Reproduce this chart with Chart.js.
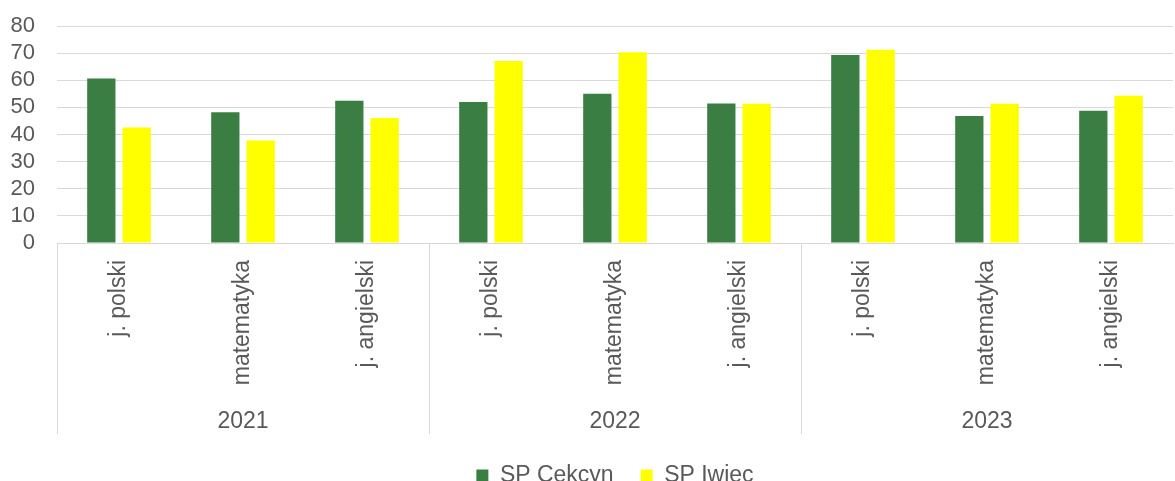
<!DOCTYPE html>
<html>
<head>
<meta charset="utf-8">
<script src="https://cdn.jsdelivr.net/npm/chart.js@4.4.1/dist/chart.umd.min.js"></script>
<style>
  html, body { margin: 0; padding: 0; background: #ffffff; }
  #wrap { width: 1175px; height: 481px; position: relative; }
</style>
</head>
<body>
<div id="wrap"><canvas id="c" width="1175" height="481"></canvas></div>
<script>
const subjects = ['j. polski', 'matematyka', 'j. angielski', 'j. polski', 'matematyka', 'j. angielski', 'j. polski', 'matematyka', 'j. angielski'];
const years = ['2021', '2022', '2023'];
const seriesNames = ['SP Cekcyn', 'SP Iwiec'];
const cekcyn = [60.6, 48.2, 52.4, 52.0, 55.0, 51.4, 69.3, 46.8, 48.8];
const iwiec = [42.6, 37.8, 46.1, 67.1, 70.3, 51.3, 71.2, 51.3, 54.3];
const yTicks = [0, 10, 20, 30, 40, 50, 60, 70, 80];

const TEXT = '#595959';
const GRID = '#d9d9d9';
const FONT = 'Liberation Sans, Arial, sans-serif';

const separators = {
  id: 'separators',
  afterDraw(chart) {
    const x = chart.scales.x;
    const ctx = chart.ctx;
    const n = x.ticks.length;
    const per = n / years.length;
    ctx.save();
    ctx.strokeStyle = GRID;
    ctx.lineWidth = 1;
    for (let g = 0; g < years.length; g++) {
      const i = g * per;
      let px;
      if (i === 0) px = chart.chartArea.left;
      else px = (x.getPixelForValue(i - 1) + x.getPixelForValue(i)) / 2;
      px = Math.round(px) + 0.5;
      ctx.beginPath();
      ctx.moveTo(px, x.top);
      ctx.lineTo(px, x.top + 191);
      ctx.stroke();
    }
    ctx.restore();
  }
};

new Chart(document.getElementById('c'), {
  type: 'bar',
  data: {
    labels: subjects,
    datasets: [
      { label: seriesNames[0], data: cekcyn, backgroundColor: '#3a7e44', borderWidth: 0, xAxisID: 'x', categoryPercentage: 0.57, barPercentage: 0.8 },
      { label: seriesNames[1], data: iwiec, backgroundColor: '#ffff00', borderWidth: 0, xAxisID: 'x', categoryPercentage: 0.57, barPercentage: 0.8 }
    ]
  },
  options: {
    responsive: false,
    animation: false,
    layout: { padding: { top: 26, right: 2, left: 0, bottom: -16 } },
    plugins: {
      legend: {
        position: 'bottom',
        fullSize: false,
        labels: {
          color: TEXT,
          font: { family: FONT, size: 23 },
          boxWidth: 12, boxHeight: 12,
          padding: 27
        }
      },
      tooltip: { enabled: false }
    },
    scales: {
      y: {
        min: 0, max: 80,
        afterBuildTicks(scale) { scale.ticks = yTicks.map(v => ({ value: v })); },
        afterFit(scale) { scale.width = 57; scale.paddingTop = 0; scale.paddingBottom = 0; },
        ticks: { color: TEXT, font: { family: FONT, size: 22 }, padding: 22, autoSkip: false },
        grid: { color: GRID, lineWidth: 1, drawTicks: false },
        border: { display: false }
      },
      x: {
        position: 'bottom',
        afterFit(scale) { scale.height = 153; },
        ticks: { color: TEXT, font: { family: FONT, size: 23 }, minRotation: 90, maxRotation: 90, padding: 17, autoSkip: false },
        grid: { display: false, drawTicks: false },
        border: { display: true, color: GRID, width: 1 }
      },
      x2: {
        type: 'category',
        labels: years,
        position: 'bottom',
        offset: true,
        afterFit(scale) { scale.height = 41; },
        ticks: { color: TEXT, font: { family: FONT, size: 23 }, padding: 12 },
        grid: { display: false, drawTicks: false },
        border: { display: false }
      }
    }
  },
  plugins: [separators]
});
</script>
</body>
</html>
